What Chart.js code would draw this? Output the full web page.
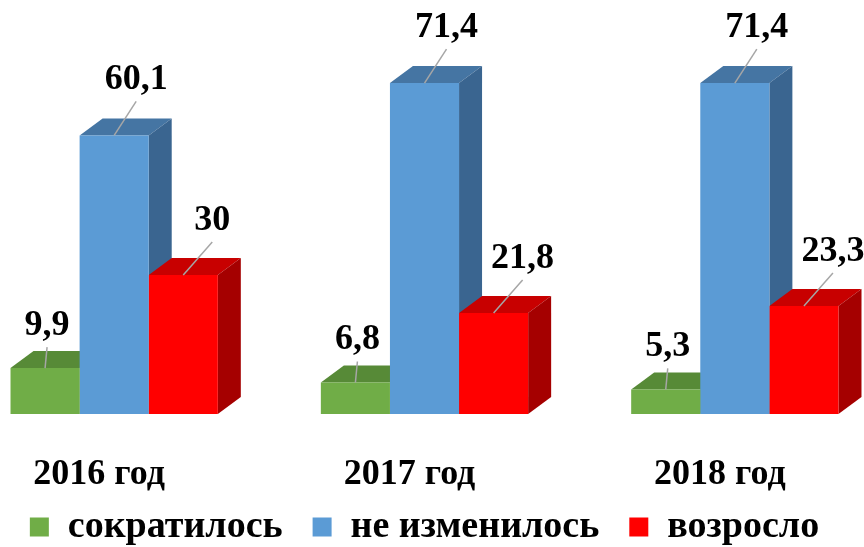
<!DOCTYPE html>
<html>
<head>
<meta charset="utf-8">
<script src="https://cdn.jsdelivr.net/npm/chart.js@4/dist/chart.umd.min.js"></script>
<style>
  html, body { margin: 0; padding: 0; background: #fff; overflow: hidden; }
  #wrap { position: absolute; left: -41px; top: 0; width: 931px; height: 547px; }
</style>
</head>
<body>
<div id="wrap"><canvas id="barChart"></canvas></div>
<script>
// data
const years = ["2016 год", "2017 год", "2018 год"];
const seriesNames = ["сократилось", "не изменилось", "возросло"];
const decreased = [9.9, 6.8, 5.3];
const unchanged = [60.1, 71.4, 71.4];
const increased = [30, 21.8, 23.3];

// 3D look
const depthX = 23;
const depthY = -17;
const serif = "'Liberation Serif', 'Times New Roman', serif";

const threeD = {
  id: "threeD",
  beforeDatasetsDraw(chart) {
    const ctx = chart.ctx;
    ctx.save();
    chart.data.datasets.forEach((ds, i) => {
      chart.getDatasetMeta(i).data.forEach((bar) => {
        const p = bar.getProps(["x", "y", "base", "width"], true);
        const l = p.x - p.width / 2;
        const r = p.x + p.width / 2;
        // top face
        ctx.fillStyle = ds.topColor;
        ctx.beginPath();
        ctx.moveTo(l, p.y);
        ctx.lineTo(r, p.y);
        ctx.lineTo(r + depthX, p.y + depthY);
        ctx.lineTo(l + depthX, p.y + depthY);
        ctx.closePath();
        ctx.fill();
        // side face
        ctx.fillStyle = ds.sideColor;
        ctx.beginPath();
        ctx.moveTo(r, p.y);
        ctx.lineTo(r + depthX, p.y + depthY);
        ctx.lineTo(r + depthX, p.base + depthY);
        ctx.lineTo(r, p.base);
        ctx.closePath();
        ctx.fill();
      });
    });
    ctx.restore();
  },
};

// value labels with leader lines + year labels under the groups
const valueLabels = {
  id: "valueLabels",
  afterDatasetsDraw(chart) {
    const ctx = chart.ctx;
    ctx.save();
    ctx.font = "bold 36px " + serif;
    ctx.textAlign = "center";
    ctx.textBaseline = "alphabetic";
    chart.data.datasets.forEach((ds, i) => {
      chart.getDatasetMeta(i).data.forEach((bar, j) => {
        const p = bar.getProps(["x", "y"], true);
        const sx = p.x + ds.labelShift[0];
        const sy = p.y + ds.labelShift[1];
        ctx.strokeStyle = "#a6a6a6";
        ctx.lineWidth = 1.5;
        ctx.beginPath();
        ctx.moveTo(sx, sy);
        ctx.lineTo(p.x, p.y);
        ctx.stroke();
        ctx.fillStyle = "#000";
        ctx.fillText(String(ds.data[j]).replace(".", ","), sx, sy - 12);
      });
    });

    // category labels, a little left of the group centre like the original
    const xScale = chart.scales.x;
    ctx.font = "bold 36px " + serif;
    years.forEach((label, i) => {
      ctx.fillText(label, xScale.getPixelForValue(i) - 15, 484);
    });
    ctx.restore();
  },
};

new Chart(document.getElementById("barChart"), {
  type: "bar",
  data: {
    labels: years,
    datasets: [
      {
        label: seriesNames[0],
        data: decreased,
        backgroundColor: "#70ad47",
        topColor: "#578a37",
        sideColor: "#4e7a31",
        labelShift: [2, -21],
      },
      {
        label: seriesNames[1],
        data: unchanged,
        backgroundColor: "#5b9bd5",
        topColor: "#4575a3",
        sideColor: "#3a6590",
        labelShift: [22, -34],
      },
      {
        label: seriesNames[2],
        data: increased,
        backgroundColor: "#ff0000",
        topColor: "#c80000",
        sideColor: "#a50000",
        labelShift: [29, -33],
      },
    ],
  },
  options: {
    responsive: true,
    maintainAspectRatio: false,
    animation: false,
    layout: { padding: { top: 20, left: 0, right: 0, bottom: -9 } },
    datasets: {
      bar: { barPercentage: 1, categoryPercentage: 0.668, borderWidth: 0 },
    },
    scales: {
      x: {
        grid: { display: false },
        border: { display: false },
        ticks: { display: false },
        afterFit(scale) {
          scale.height = 64;
        },
      },
      y: { display: false, min: 0, max: 85 },
    },
    plugins: {
      legend: {
        position: "bottom",
        labels: {
          color: "#000",
          boxWidth: 19,
          boxHeight: 19,
          padding: 30,
          font: { family: serif, size: 38, weight: "bold" },
        },
      },
      tooltip: { enabled: false },
    },
  },
  plugins: [threeD, valueLabels],
});
</script>
</body>
</html>
